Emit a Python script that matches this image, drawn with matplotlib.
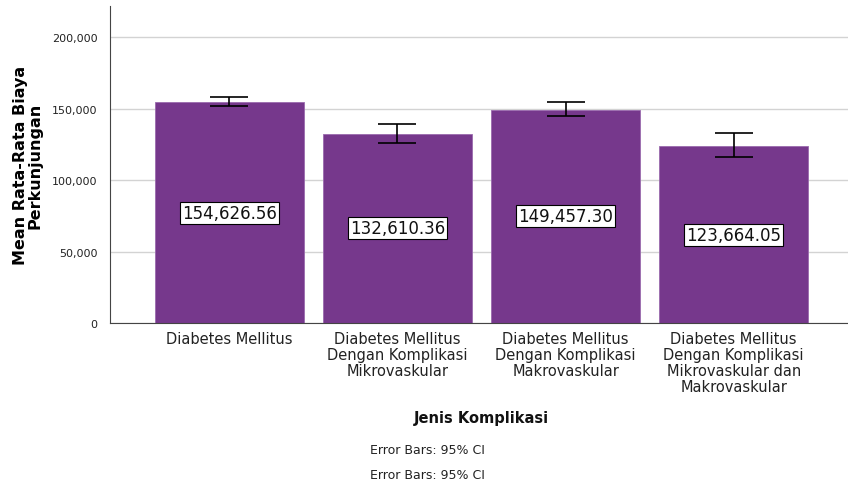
import numpy as np
import matplotlib
matplotlib.use('Agg')
import matplotlib.pyplot as plt
from matplotlib.ticker import FuncFormatter

# categories and means
categories = ['Diabetes Mellitus',
              'Diabetes Mellitus\nDengan Komplikasi\nMikrovaskular',
              'Diabetes Mellitus\nDengan Komplikasi\nMakrovaskular',
              'Diabetes Mellitus\nDengan Komplikasi\nMikrovaskular dan\nMakrovaskular']
means = [154626.56, 132610.36, 149457.30, 123664.05]
# 95% CI bounds
ci_low = [151700, 125900, 144800, 116100]
ci_high = [158000, 139500, 154500, 132900]

bar_color = '#76388C'

fig = plt.figure(figsize=(8.48, 4.89), dpi=100)
ax = fig.add_axes([0.1297, 0.3374, 0.8703, 0.6483])

x = np.arange(len(categories))
ax.bar(x, means, width=0.89, color=bar_color, edgecolor='#9A6AAE',
       linewidth=0.6, zorder=2)

yerr = [np.array(means) - np.array(ci_low), np.array(ci_high) - np.array(means)]
ax.errorbar(x, means, yerr=yerr, fmt='none', ecolor='black',
            elinewidth=1.2, capsize=14, capthick=1.2, zorder=3)

# value labels in the middle of each bar
for xi, m in zip(x, means):
    ax.text(xi, m / 2, '{:,.2f}'.format(m), ha='center', va='center',
            fontsize=12, color='#111111', zorder=4,
            bbox=dict(boxstyle='square,pad=0.12', facecolor='white',
                      edgecolor='black', linewidth=0.8))

ax.set_xlim(-0.71, 3.68)
ax.set_ylim(0, 222000)
ax.set_yticks([0, 50000, 100000, 150000, 200000])
ax.yaxis.set_major_formatter(FuncFormatter(lambda v, p: '{:,.0f}'.format(v)))
ax.grid(axis='y', color='#D3D3D3', linewidth=1.0, zorder=0)
ax.set_axisbelow(True)

ax.set_xticks(x)
ax.set_xticklabels(categories, fontsize=10.5, color='#222222', linespacing=1.08)
ax.tick_params(axis='x', length=0, pad=6)
ax.tick_params(axis='y', length=0, labelsize=8, pad=9, colors='#222222')

for s in ['top', 'right']:
    ax.spines[s].set_visible(False)
ax.spines['left'].set_color('#444444')
ax.spines['bottom'].set_color('#444444')

ax.set_ylabel('Mean Rata-Rata Biaya\nPerkunjungan', fontsize=11.5,
              fontweight='bold', linespacing=0.9, labelpad=7)
fig.text(0.568, 1 - 419 / 489, 'Jenis Komplikasi', ha='center', va='center',
         fontsize=10.5, fontweight='bold', color='#111111')

fig.text(370 / 848, 1 - 451 / 489, 'Error Bars: 95% CI', ha='left',
         va='center', fontsize=9, color='#222222')
fig.text(370 / 848, 1 - 476 / 489, 'Error Bars: 95% CI', ha='left',
         va='center', fontsize=9, color='#222222')

plt.savefig('out.png', dpi=100)
